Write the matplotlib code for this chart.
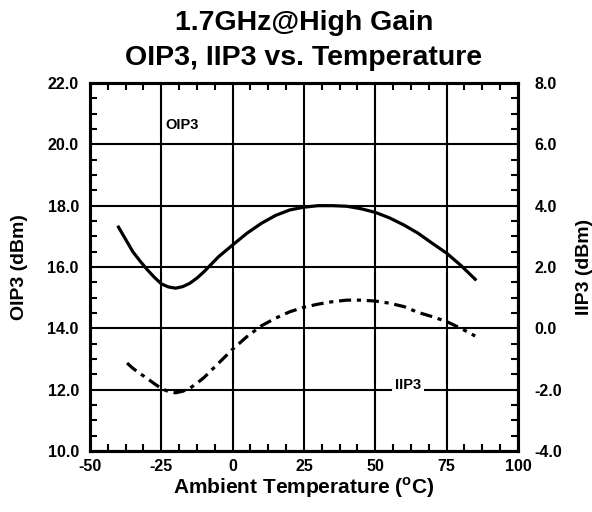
import matplotlib
matplotlib.use("Agg")
import matplotlib.pyplot as plt
from matplotlib.ticker import MultipleLocator

plt.rcParams["font.family"] = ["Liberation Sans", "DejaVu Sans"]
plt.rcParams["font.weight"] = "bold"
plt.rcParams["axes.labelweight"] = "bold"
plt.rcParams["axes.unicode_minus"] = False
plt.rcParams["mathtext.fontset"] = "custom"
plt.rcParams["mathtext.rm"] = "Liberation Sans:bold"

# temperature sweep (degC)
temp_oip3 = [-40, -37.5, -35, -32.5, -30, -27.5, -25, -22.5, -20, -17.5, -15,
             -12.5, -10, -7.5, -5, 0, 5, 10, 15, 20, 25, 30, 35, 40, 45, 50,
             55, 60, 65, 70, 75, 80, 85]
oip3 = [17.3, 16.9, 16.5, 16.2, 15.92, 15.67, 15.45, 15.35, 15.31, 15.36,
        15.47, 15.64, 15.85, 16.09, 16.33, 16.72, 17.1, 17.42, 17.68, 17.86,
        17.95, 18.0, 18.0, 17.98, 17.9, 17.78, 17.6, 17.37, 17.1, 16.77,
        16.45, 16.05, 15.6]

temp_iip3 = [-37, -35, -32.5, -30, -27.5, -25, -22.5, -20, -17.5, -15, -12.5,
             -10, -5, 0, 5, 10, 15, 20, 25, 30, 35, 40, 45, 50, 55, 60, 65,
             70, 75, 80, 85]
iip3 = [-1.13, -1.3, -1.47, -1.63, -1.8, -1.96, -2.06, -2.1, -2.05, -1.95,
        -1.79, -1.6, -1.14, -0.68, -0.27, 0.08, 0.33, 0.54, 0.69, 0.79, 0.87,
        0.92, 0.92, 0.89, 0.82, 0.71, 0.52, 0.38, 0.22, 0.0, -0.25]

fig = plt.figure(figsize=(5.92, 5.12), dpi=100)
ax = fig.add_axes([0.152, 0.119, 0.723, 0.719])
ax2 = ax.twinx()

ax.plot(temp_oip3, oip3, color="black", lw=2.3, solid_joinstyle="round",
        zorder=3)
ax2.plot(temp_iip3, iip3, color="black", lw=2.3, dash_joinstyle="round",
         linestyle=(0, (3.8, 1.8, 1.3, 1.8)), zorder=3)

ax.set_xlim(-50, 100)
ax.set_ylim(10, 22)
ax2.set_ylim(-4, 8)

ax.xaxis.set_major_locator(MultipleLocator(25))
ax.xaxis.set_minor_locator(MultipleLocator(6.25))
ax.yaxis.set_major_locator(MultipleLocator(2))
ax.yaxis.set_minor_locator(MultipleLocator(0.5))
ax2.yaxis.set_major_locator(MultipleLocator(2))
ax2.yaxis.set_minor_locator(MultipleLocator(0.5))

ax.yaxis.set_major_formatter(lambda v, p: f"{v:.1f}")
ax2.yaxis.set_major_formatter(lambda v, p: f"{v:.1f}")

ax.grid(True, which="major", color="black", lw=1.5)
ax.set_axisbelow(True)

ax.tick_params(which="both", direction="in", top=True, labelsize=11.5, pad=8)
ax.tick_params(which="major", length=0)
ax.tick_params(which="minor", length=5, width=1.5)
ax.tick_params(axis="y", which="minor", right=False)
ax.tick_params(axis="x", pad=6)
ax2.tick_params(which="both", direction="in", labelsize=11.5, pad=12)
ax2.tick_params(which="major", length=0)
ax2.tick_params(which="minor", length=5, width=1.5)

for a in (ax, ax2):
    for s in a.spines.values():
        s.set_linewidth(2.2)

ax.set_xlabel(r"Ambient Temperature ($^{\mathrm{o}}$C)", fontsize=15, labelpad=1)
ax.set_ylabel("OIP3 (dBm)", fontsize=14, labelpad=14)
ax2.set_ylabel("IIP3 (dBm)", fontsize=14, labelpad=10)

ax.text(-17.7, 20.63, "OIP3", fontsize=10.5, ha="center", va="center", zorder=4)
ax.text(61.5, 12.15, "IIP3", fontsize=10.5, ha="center", va="center", zorder=4,
        bbox=dict(facecolor="white", edgecolor="none", pad=2))

fig.text(0.5135, 0.955, "1.7GHz@High Gain", fontsize=20.5, ha="center",
         va="center")
fig.text(0.5135, 0.887, "OIP3, IIP3 vs. Temperature", fontsize=20.5,
         ha="center", va="center")

fig.savefig("out.png", dpi=100)
